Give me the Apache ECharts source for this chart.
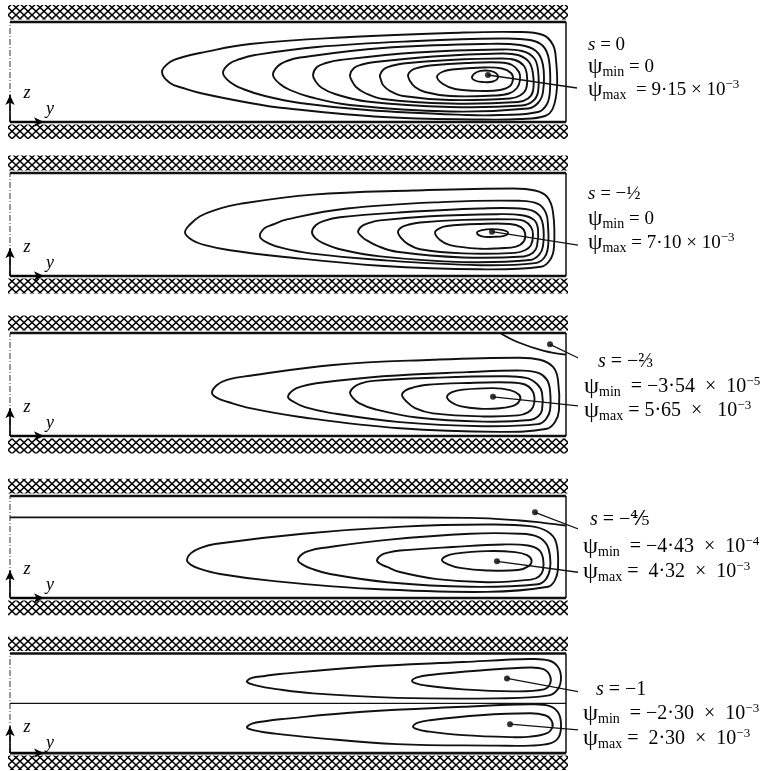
<!DOCTYPE html>
<html><head><meta charset="utf-8">
<script src="https://cdn.jsdelivr.net/npm/echarts@6/dist/echarts.min.js"></script>
<style>html,body{margin:0;padding:0;background:#fff}#c{width:773px;height:771px}</style>
</head><body><div id="c"></div>
<script>
// ---------- DATA (y along channel, z across channel; walls at z = 0 and z = 1) ----------
const P1_CONTOURS = [
 [[1.52,.50],[1.60,.60],[1.73,.65],[1.90,.69],[2.40,.78],[3.40,.85],[4.40,.89],[5.07,.90],[5.33,.87],[5.43,.77],[5.46,.62],[5.47,.35],[5.43,.14],[5.35,.06],[5.10,.03],[4.73,.025],[3.73,.05],[2.73,.14],[2.40,.19],[1.90,.29],[1.73,.34],[1.60,.39]],
 [[2.13,.49],[2.19,.58],[2.30,.63],[2.45,.67],[3.07,.75],[4.07,.81],[4.90,.835],[5.20,.82],[5.33,.76],[5.39,.62],[5.40,.32],[5.37,.18],[5.28,.10],[4.90,.07],[4.57,.07],[3.57,.12],[2.90,.19],[2.55,.26],[2.33,.33],[2.20,.40]],
 [[2.63,.47],[2.68,.56],[2.77,.61],[2.90,.645],[3.73,.74],[4.73,.78],[5.10,.77],[5.26,.71],[5.33,.57],[5.33,.30],[5.28,.19],[5.18,.135],[4.40,.105],[3.40,.17],[3.00,.25],[2.80,.32],[2.70,.38]],
 [[3.03,.47],[3.07,.55],[3.16,.59],[3.30,.62],[4.07,.695],[4.90,.725],[5.12,.71],[5.24,.64],[5.28,.52],[5.28,.30],[5.23,.21],[5.12,.165],[4.40,.15],[3.57,.205],[3.25,.28],[3.12,.34],[3.06,.40]],
 [[3.40,.47],[3.44,.54],[3.52,.575],[3.65,.60],[4.23,.655],[4.90,.685],[5.08,.67],[5.19,.60],[5.23,.48],[5.23,.31],[5.18,.235],[5.08,.20],[4.40,.185],[3.73,.23],[3.55,.29],[3.46,.35],[3.42,.41]],
 [[3.70,.47],[3.74,.53],[3.81,.56],[3.93,.585],[4.40,.62],[4.90,.635],[5.05,.62],[5.14,.56],[5.17,.46],[5.16,.33],[5.10,.265],[5.00,.235],[4.40,.22],[3.93,.26],[3.80,.31],[3.73,.37],[3.71,.42]],
 [[3.98,.47],[4.02,.52],[4.09,.545],[4.20,.565],[4.57,.59],[4.90,.595],[5.02,.57],[5.09,.50],[5.10,.42],[5.07,.34],[4.99,.285],[4.85,.265],[4.40,.26],[4.15,.30],[4.05,.35],[4.00,.41]],
 [[4.27,.45],[4.32,.50],[4.42,.525],[4.73,.545],[4.92,.535],[5.01,.49],[5.03,.43],[5.00,.36],[4.90,.32],[4.73,.31],[4.45,.33],[4.33,.38]],
 [[4.62,.45],[4.67,.50],[4.75,.515],[4.84,.50],[4.88,.45],[4.83,.405],[4.72,.40],[4.65,.415]]
];
const P2_CONTOURS = [
 [[1.75,.42],[1.80,.50],[1.90,.58],[2.05,.64],[2.30,.70],[3.03,.79],[4.03,.83],[5.03,.85],[5.25,.83],[5.37,.77],[5.43,.62],[5.44,.28],[5.40,.155],[5.31,.09],[4.70,.065],[3.70,.10],[2.70,.19],[2.20,.25],[1.95,.30],[1.82,.35]],
 [[2.50,.38],[2.54,.46],[2.63,.50],[2.77,.55],[3.37,.655],[4.37,.72],[5.10,.73],[5.28,.70],[5.36,.61],[5.38,.485],[5.38,.28],[5.34,.175],[5.25,.125],[4.70,.105],[3.70,.155],[3.00,.22],[2.73,.27],[2.58,.32]],
 [[3.02,.43],[3.06,.495],[3.14,.535],[3.30,.57],[3.87,.615],[4.70,.655],[5.15,.65],[5.28,.60],[5.33,.495],[5.33,.29],[5.29,.205],[5.20,.155],[4.53,.135],[3.70,.19],[3.30,.26],[3.13,.32],[3.05,.37]],
 [[3.48,.43],[3.52,.485],[3.59,.515],[3.70,.54],[4.20,.58],[4.87,.60],[5.12,.59],[5.24,.545],[5.28,.455],[5.27,.29],[5.23,.225],[5.14,.19],[4.53,.18],[3.87,.235],[3.68,.29],[3.56,.35],[3.51,.39]],
 [[3.88,.43],[3.92,.475],[3.99,.50],[4.10,.52],[4.53,.545],[5.03,.55],[5.14,.535],[5.21,.475],[5.23,.40],[5.21,.30],[5.15,.25],[5.05,.225],[4.53,.22],[4.10,.26],[3.98,.31],[3.91,.37]],
 [[4.25,.42],[4.29,.46],[4.37,.485],[4.70,.505],[5.00,.505],[5.11,.475],[5.15,.42],[5.14,.34],[5.06,.285],[4.90,.27],[4.70,.265],[4.40,.30],[4.30,.35]],
 [[4.67,.42],[4.72,.445],[4.82,.455],[4.93,.445],[4.98,.42],[4.94,.39],[4.83,.38],[4.72,.385]]
];
const P3_CONTOURS = [
 [[2.02,.42],[2.07,.495],[2.17,.545],[2.40,.585],[3.23,.69],[4.23,.74],[5.07,.76],[5.30,.74],[5.43,.67],[5.48,.545],[5.49,.25],[5.45,.135],[5.37,.07],[4.90,.04],[3.90,.075],[2.90,.185],[2.40,.27],[2.18,.33],[2.07,.37]],
 [[2.78,.38],[2.83,.445],[2.91,.48],[3.05,.51],[3.73,.58],[4.57,.62],[5.13,.635],[5.29,.61],[5.37,.545],[5.40,.445],[5.40,.25],[5.36,.165],[5.28,.115],[4.73,.095],[3.90,.135],[3.20,.225],[2.95,.28],[2.84,.33]],
 [[3.40,.42],[3.44,.475],[3.51,.51],[3.63,.535],[4.23,.565],[4.90,.58],[5.16,.565],[5.27,.505],[5.32,.42],[5.32,.25],[5.28,.19],[5.20,.155],[4.73,.14],[4.07,.18],[3.65,.26],[3.49,.32],[3.43,.37]],
 [[3.92,.40],[3.96,.445],[4.03,.47],[4.15,.495],[4.57,.515],[5.00,.52],[5.15,.50],[5.22,.445],[5.245,.37],[5.23,.28],[5.18,.23],[5.08,.20],[4.73,.19],[4.23,.22],[4.05,.27],[3.96,.34]],
 [[4.37,.38],[4.42,.425],[4.53,.45],[4.83,.465],[5.00,.445],[5.09,.40],[5.10,.35],[5.05,.30],[4.90,.27],[4.70,.265],[4.50,.29],[4.41,.33]]
];
const P4_CONTOURS = [
 [[1.77,.37],[1.81,.44],[1.90,.49],[2.05,.53],[2.93,.63],[3.93,.70],[4.77,.72],[5.20,.705],[5.37,.655],[5.46,.55],[5.48,.295],[5.45,.175],[5.38,.11],[4.77,.06],[3.60,.09],[2.60,.17],[2.10,.235],[1.90,.285],[1.81,.325]],
 [[2.88,.37],[2.92,.43],[3.00,.465],[3.12,.49],[3.77,.57],[4.60,.63],[5.10,.63],[5.28,.60],[5.37,.52],[5.40,.41],[5.40,.285],[5.36,.185],[5.28,.135],[4.60,.11],[3.77,.155],[3.20,.235],[3.02,.285],[2.93,.325]],
 [[3.67,.37],[3.71,.42],[3.78,.445],[3.90,.465],[4.43,.50],[4.93,.525],[5.18,.515],[5.29,.47],[5.33,.39],[5.33,.275],[5.29,.21],[5.21,.18],[4.77,.155],[4.27,.185],[3.90,.255],[3.77,.305],[3.70,.335]],
 [[4.32,.37],[4.36,.41],[4.45,.435],[4.77,.46],[5.05,.45],[5.17,.42],[5.215,.37],[5.19,.315],[5.08,.275],[4.77,.27],[4.50,.295],[4.38,.33]]
];
const P5_CONTOURS = [
 [[2.37,.715],[2.42,.755],[2.55,.775],[2.70,.795],[3.53,.865],[4.53,.915],[5.20,.945],[5.39,.93],[5.48,.865],[5.51,.755],[5.48,.645],[5.39,.58],[4.87,.55],[3.87,.555],[3.03,.60],[2.65,.645],[2.48,.675]],
 [[4.02,.725],[4.07,.76],[4.20,.785],[4.70,.83],[5.20,.86],[5.34,.84],[5.40,.775],[5.40,.695],[5.34,.64],[5.03,.62],[4.53,.64],[4.15,.68],[4.06,.70]],
 [[2.37,.255],[2.42,.295],[2.55,.32],[2.70,.34],[3.53,.415],[4.53,.465],[5.20,.49],[5.39,.475],[5.48,.41],[5.51,.295],[5.49,.165],[5.41,.10],[5.20,.075],[4.87,.075],[3.87,.09],[3.03,.155],[2.65,.195],[2.48,.22]],
 [[4.03,.265],[4.08,.305],[4.20,.33],[4.70,.38],[5.20,.40],[5.35,.38],[5.41,.335],[5.425,.265],[5.37,.20],[5.20,.165],[5.03,.16],[4.53,.18],[4.16,.22],[4.07,.24]]
];
// dividing streamlines (psi = 0) for s = -2/3, -4/5, -1
const P3_SEPARATRIX = [[4.90,1.00],[5.08,0.91],[5.33,0.83],[5.56,0.79]];
const P4_SEPARATRIX = [[0,0.79],[2.0,0.79],[3.6,0.79],[4.6,0.785],[5.1,0.76],[5.35,0.735],[5.56,0.71]];
const P5_SEPARATRIX = [[0,0.5],[5.56,0.5]];
// marked extremum points (dots) and where their leader lines end
const EXTREMA = [
 [[4.78,0.47]],
 [[4.82,0.43]],
 [[5.40,0.89],[4.83,0.38]],
 [[5.25,0.84],[4.87,0.36]],
 [[4.97,0.75],[5.00,0.29]]
];
const LEADER_ENDS = [
 [[5.67,0.34]],
 [[5.68,0.30]],
 [[5.72,0.74],[5.70,0.29]],
 [[5.70,0.67],[5.70,0.25]],
 [[5.72,0.61],[5.72,0.23]]
];
// annotation texts
const S_LABELS = ['0','−½','−⅔','−⅘','−1'];
const PSI_MIN = [['0',''],['0',''],['−3·54  ×  10','−5'],['−4·43  ×  10','−4'],['−2·30  ×  10','−3']];
const PSI_MAX = [[' = 9·15 × 10','−3'],['= 7·10 × 10','−3'],['= 5·65  ×   10','−3'],['=  4·32  ×  10','−3'],['=  2·30  ×  10','−3']];
const MIN_EQ = [' = ',' = ','  = ','  = ','  = '];

// ---------- LAYOUT ----------
const BOX = [{top:22,h:100},{top:173,h:103},{top:333,h:103},{top:496,h:102},{top:654,h:102}];
const TEXT_POS = [
 {s:[588,45], mn:[588,67], mx:[588,90]},
 {s:[588,194], mn:[588,219], mx:[588,243]},
 {s:[598,362], mn:[584,387], mx:[584,411]},
 {s:[590,520], mn:[583,547], mx:[583,572]},
 {s:[596,690], mn:[583,714], mx:[583,739]}
];
const FS = [19,19,20,20,20];
const L = 5.56; // channel length drawn
const FONT = "'Liberation Serif','DejaVu Serif',serif";
const INK = '#111';

function hatchPattern(){
  const c = document.createElement('canvas'); c.width = 16; c.height = 15;
  const g = c.getContext('2d'); g.fillStyle='#fff'; g.fillRect(0,0,16,15);
  g.strokeStyle = '#000'; g.lineWidth = 1.5;
  for (const x0 of [-16,-8,0,8,16]) { g.beginPath(); g.moveTo(x0,0); g.lineTo(x0+16,15); g.stroke(); }
  for (const x0 of [0,8,16,24,32]) { g.beginPath(); g.moveTo(x0,0); g.lineTo(x0-16,15); g.stroke(); }
  return c;
}
const pat = {image: hatchPattern(), repeat: 'repeat'};

const chart = echarts.init(document.getElementById('c'), null, {renderer:'canvas', width:773, height:771});
const grids = [], xAxes = [], yAxes = [], series = [], graphics = [];
const ALL = [P1_CONTOURS, P2_CONTOURS, P3_CONTOURS, P4_CONTOURS, P5_CONTOURS];
const SEPS = [null, null, P3_SEPARATRIX, P4_SEPARATRIX, P5_SEPARATRIX];

function lineS(p, data, width, extra){
  return Object.assign({type:'line', xAxisIndex:p, yAxisIndex:p, data:data, showSymbol:false, symbol:'none',
    clip:false, silent:true, animation:false, lineStyle:{color:INK, width:width}}, extra||{});
}
// closed streamline: smooth closed loop through the read points, placed via the axes
function contourS(p, pts){
  return {type:'custom', xAxisIndex:p, yAxisIndex:p, data:pts, silent:true, animation:false, clip:false,
    renderItem:function(params, api){
      if (params.dataIndex !== 0) return null;
      return {type:'polygon', shape:{points: pts.map(v=>api.coord(v)), smooth:0.4},
        style:{fill:'none', stroke:INK, lineWidth:1.9}};
    }};
}

BOX.forEach((b,p)=>{
  grids.push({left:5, width:571, top:b.top - 0.18*b.h, height:1.36*b.h});
  xAxes.push({type:'value', gridIndex:p, min:-0.05, max:5.66, show:false});
  yAxes.push({type:'value', gridIndex:p, min:-0.18, max:1.18, show:false});
  // walls + hatching + coordinate arrows
  series.push(lineS(p, [[0,1],[L,1]], 2.6, {
    markArea:{silent:true, itemStyle:{color:pat, borderWidth:0},
      data:[[{coord:[-0.02,1.025]},{coord:[5.58,1.17]}],[{coord:[-0.02,-0.025]},{coord:[5.58,-0.17]}]]}
  }));
  series.push(lineS(p, [[0,0],[L,0]], 2.6, {
    markLine:{silent:true, symbol:['none','arrow'], symbolSize:[7,10], label:{show:false},
      lineStyle:{color:'#000', width:1.6, type:'solid'},
      data:[[{coord:[0,0]},{coord:[0,0.27]}],[{coord:[0,0]},{coord:[0.34,0]}]]}
  }));
  series.push(lineS(p, [[L,0],[L,1]], 1.5));
  series.push(lineS(p, [[0,0],[0,1]], 1, {lineStyle:{color:'#333', width:1, type:[6,2,1,2]}}));
  // contours
  ALL[p].forEach(c=>series.push(contourS(p, c)));
  if (SEPS[p]) series.push(lineS(p, SEPS[p], p===4?1.3:1.8, {smooth:0.4}));
  // extrema dots and leaders
  EXTREMA[p].forEach((pt,i)=>series.push(lineS(p, [pt, LEADER_ENDS[p][i]], 1.3)));
  series.push({type:'scatter', xAxisIndex:p, yAxisIndex:p, data:EXTREMA[p], symbolSize:6, silent:true,
    animation:false, clip:false, itemStyle:{color:'#000'}});
  // axis labels
  const bottom = b.top + b.h;
  graphics.push({type:'text', x:27, y:bottom-29, style:{text:'z', fontFamily:FONT, fontStyle:'italic', fontSize:18, fill:'#000', align:'center', verticalAlign:'middle'}});
  graphics.push({type:'text', x:50, y:bottom-13, style:{text:'y', fontFamily:FONT, fontStyle:'italic', fontSize:18, fill:'#000', align:'center', verticalAlign:'middle'}});
  // annotations
  const f = FS[p];
  const rich = {
    t:{fontFamily:FONT, fontSize:f, lineHeight:24, verticalAlign:'middle', fill:'#000'},
    i:{fontFamily:FONT, fontSize:f, fontStyle:'italic', lineHeight:24, verticalAlign:'middle', fill:'#000'},
    psi:{fontFamily:FONT, fontSize:f+4, lineHeight:24, verticalAlign:'middle', fill:'#000'},
    sub:{fontFamily:FONT, fontSize:14, lineHeight:13, verticalAlign:'bottom', fill:'#000'},
    sup:{fontFamily:FONT, fontSize:13, lineHeight:14, verticalAlign:'top', fill:'#000'}
  };
  const tp = TEXT_POS[p];
  const mk = (pos, txt)=>({type:'text', x:pos[0], y:pos[1], style:{text:txt, rich:rich, fontFamily:FONT, fontSize:f, align:'left', verticalAlign:'middle', fill:'#000'}});
  graphics.push(mk(tp.s, '{i|s}{t| = '+S_LABELS[p]+'}'));
  const mn = PSI_MIN[p];
  graphics.push(mk(tp.mn, '{psi|ψ}{sub|min}{t|'+MIN_EQ[p]+mn[0]+'}'+(mn[1]?'{sup|'+mn[1]+'}':'')));
  const mx = PSI_MAX[p];
  graphics.push(mk(tp.mx, '{psi|ψ}{sub|max}{t| '+mx[0]+'}{sup|'+mx[1]+'}'));
});

chart.setOption({animation:false, backgroundColor:'#fff', grid:grids, xAxis:xAxes, yAxis:yAxes, series:series, graphic:graphics});
</script></body></html>
